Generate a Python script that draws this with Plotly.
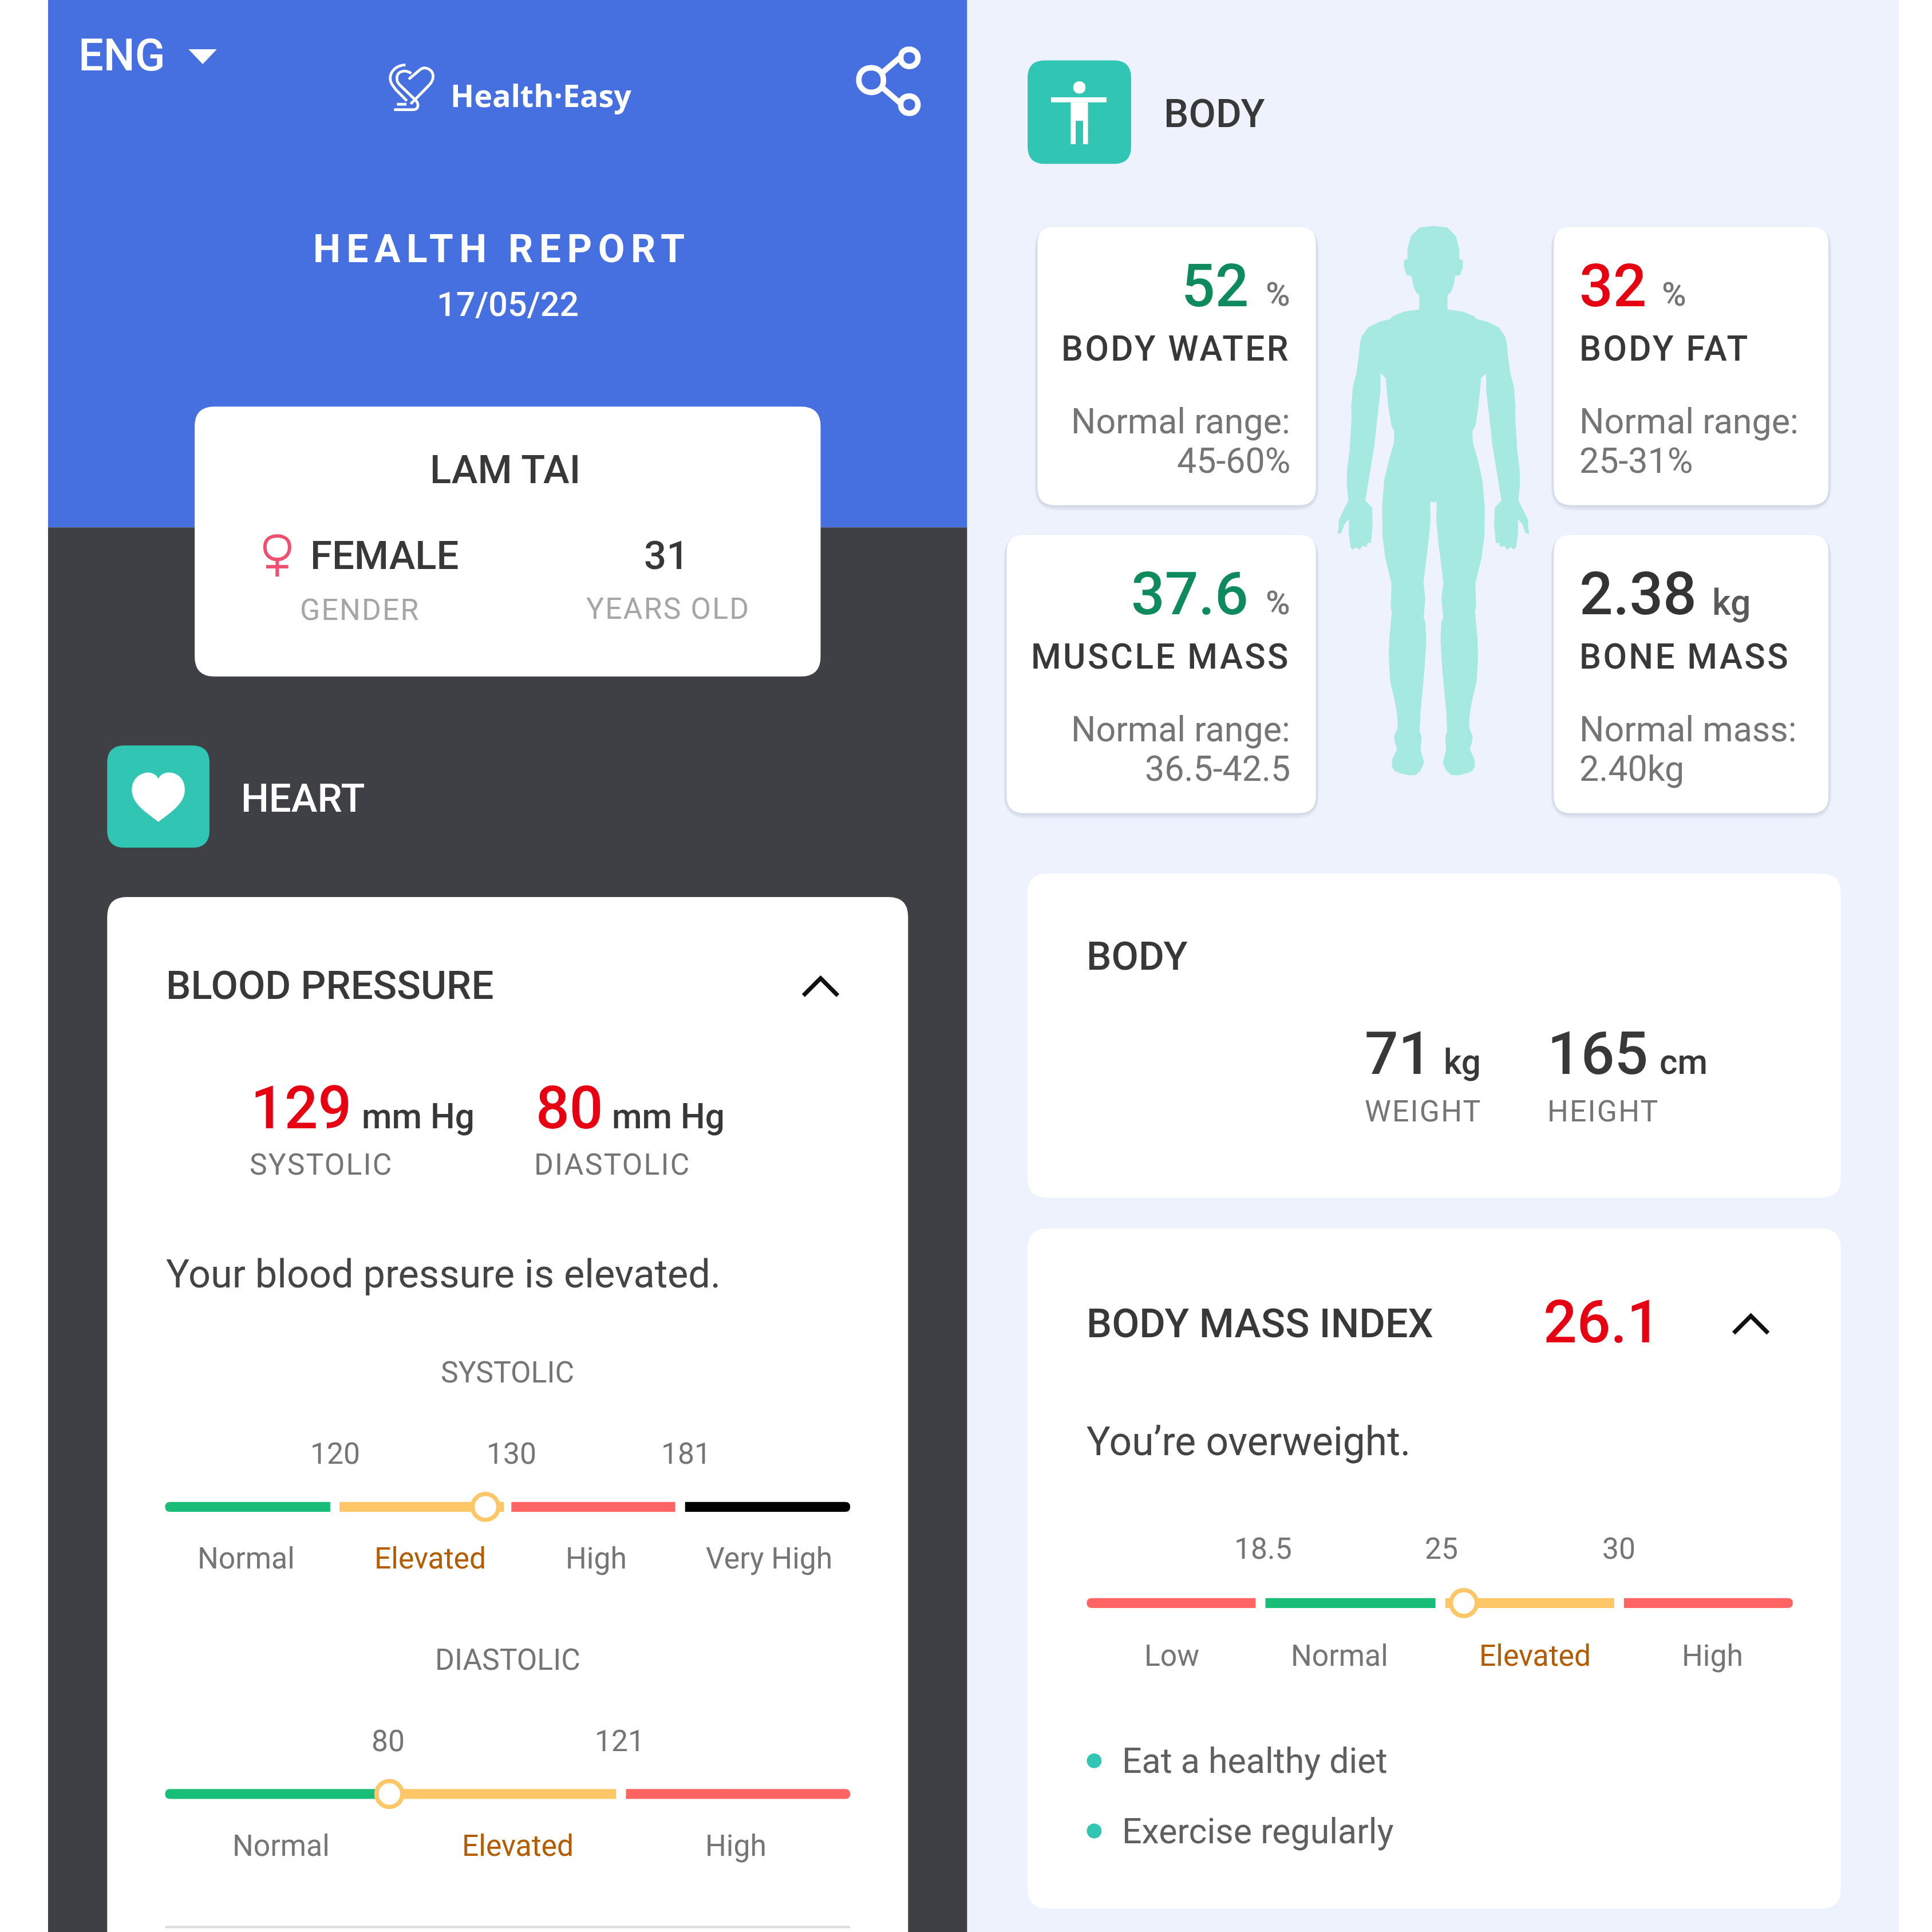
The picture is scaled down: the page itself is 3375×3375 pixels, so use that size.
"""Health report screen rebuilt as a single Plotly figure"""

import plotly.graph_objects as go

# all positions below are in the coordinates of a 1568 px wide layout
S = 3375 / 1568

report_title = "HEALTH REPORT"
report_date = "17/05/22"
patient_name = "LAM TAI"
patient_gender = "FEMALE"
patient_age = "31"

systolic_value = 129
diastolic_value = 80
bmi_value = 26.1
weight_kg = 71
height_cm = 165

systolic_labels = ["Normal", "Elevated", "High", "Very High"]
systolic_ticks = [120, 130, 181]
diastolic_labels = ["Normal", "Elevated", "High"]
diastolic_ticks = [80, 121]
bmi_labels = ["Low", "Normal", "Elevated", "High"]
bmi_ticks = [18.5, 25, 30]

body_names = ["BODY WATER", "BODY FAT", "MUSCLE MASS", "BONE MASS"]
body_values = ["52", "32", "37.6", "2.38"]
body_units = ["%", "%", "%", "kg"]
body_notes = ["Normal range:", "Normal range:", "Normal range:", "Normal mass:"]
body_ranges = ["45-60%", "25-31%", "36.5-42.5", "2.40kg"]
advice = ["Eat a healthy diet", "Exercise regularly"]

BLUE = "#466fe0"
DARK = "#3f4045"
PALE = "#eef2fd"
TEAL = "#31c6b4"
INK = "#383838"
GREY = "#757575"
RED = "#e60012"
GREEN = "#0f8a5c"
BROWN = "#b35c00"
G_GREEN = "#18bd78"
G_YELLOW = "#fdc666"
G_RED = "#ff6464"
FONT = "Roboto"

shapes = []
annotations = []


def text(x, y, s, size, color=INK, anchor="left", weight=400, spacing=0, family=FONT):
    # annotations carry a small inner padding, take it back out
    nudge = {"left": -1.3, "right": 1, "center": 0}[anchor]
    if spacing:
        s = f'<span style="letter-spacing:{spacing * S:.1f}px">{s}</span>'
    annotations.append(dict(
        x=x + nudge, y=y, text=s, showarrow=False, xanchor=anchor, yanchor="middle", align=anchor,
        font=dict(family=family, size=size * S, color=color, weight=weight),
    ))


def shape_path(path, fill=None, line=None, width=0, opacity=1):
    shapes.append(dict(
        type="path", path=path, xref="x", yref="y", layer="below", opacity=opacity,
        fillcolor=fill if fill else "rgba(0,0,0,0)",
        line=dict(color=line if line else "rgba(0,0,0,0)", width=width * S),
    ))


def round_rect(x0, y0, x1, y1, r, fill, opacity=1, left=True, right=True):
    rl = r if left else 0
    rr = r if right else 0
    p = (f"M{x0 + rl},{y0} L{x1 - rr},{y0} Q{x1},{y0} {x1},{y0 + rr} L{x1},{y1 - rr} "
         f"Q{x1},{y1} {x1 - rr},{y1} L{x0 + rl},{y1} Q{x0},{y1} {x0},{y1 - rl} "
         f"L{x0},{y0 + rl} Q{x0},{y0} {x0 + rl},{y0} Z")
    shape_path(p, fill=fill, opacity=opacity)


def rect(x0, y0, x1, y1, fill):
    shapes.append(dict(type="rect", x0=x0, y0=y0, x1=x1, y1=y1, xref="x", yref="y",
                       layer="below", fillcolor=fill, line=dict(width=0)))


def shadow_card(x0, y0, x1, y1, r=14):
    for d in [5, 4, 3, 2, 1]:
        round_rect(x0 - d * 0.5, y0 + 1 - d * 0.3, x1 + d * 0.5, y1 + d * 0.9, r + d,
                   "#7c84a0", opacity=0.05)
    round_rect(x0, y0, x1, y1, r, "white")


def chevron(cx, cy):
    shape_path(f"M{cx - 14},{cy + 8} L{cx},{cy - 6} L{cx + 14},{cy + 8}", line="#111111", width=3.4)


def gauge(edges, y, colors):
    n = len(edges)
    for i, (x0, x1) in enumerate(edges):
        round_rect(x0, y - 4, x1, y + 4, 4, colors[i], left=i == 0, right=i == n - 1)


def logo_xy(x, y):
    return f"{(660 + x / 3) / S:.1f},{(100 + y / 3) / S:.1f}"


# panels
rect(39, 0, 785, 428, BLUE)
rect(39, 428, 785, 1568, DARK)
rect(785, 0, 1541, 1568, PALE)

# header
text(64, 45, "ENG", 36, "white", weight=500)
shape_path("M153,40 L176,40 L164.5,52 Z", fill="white")
# logo
shape_path(f"M{logo_xy(162, 115)} L{logo_xy(225, 62)} C{logo_xy(255, 45)} {logo_xy(290, 70)} {logo_xy(290, 100)} "
           f"C{logo_xy(290, 125)} {logo_xy(275, 140)} {logo_xy(260, 155)} L{logo_xy(172, 245)}",
           line="white", width=2.2)
shape_path(f"M{logo_xy(175, 85)} C{logo_xy(140, 60)} {logo_xy(100, 75)} {logo_xy(100, 110)} "
           f"C{logo_xy(100, 135)} {logo_xy(115, 145)} {logo_xy(130, 160)} L{logo_xy(195, 222)} "
           f"C{logo_xy(220, 245)} {logo_xy(212, 275)} {logo_xy(185, 275)} L{logo_xy(85, 275)}",
           line="white", width=2.2)
shape_path(f"M{logo_xy(145, 40)} C{logo_xy(95, 42)} {logo_xy(65, 75)} {logo_xy(65, 110)} "
           f"C{logo_xy(65, 135)} {logo_xy(80, 150)} {logo_xy(95, 170)} L{logo_xy(152, 228)}",
           line="white", width=2.2)
shape_path(f"M{logo_xy(100, 246)} L{logo_xy(150, 246)}", line="white", width=2.2)
text(366, 77, "Health·Easy", 25, "white", weight=700, family="Open Sans")
# share icon
shape_path("M716,59 L730,47 M716,71 L731,84", line="white", width=4.5)
shape_path("M697,65 C697,58 702,55 707,55 C713,55 717,59 717,65 C717,71 713,75 707,75 "
           "C702,75 697,71 697,65 Z", line="white", width=4.5)
shape_path("M731,47 C731,42 734,40 738,40 C742,40 745,43 745,47 C745,51 742,54 738,54 "
           "C734,54 731,51 731,47 Z", line="white", width=4.5)
shape_path("M731,85 C731,80 734,78 738,78 C742,78 745,81 745,85 C745,89 742,92 738,92 "
           "C734,92 731,89 731,85 Z", line="white", width=4.5)

text(407, 202, report_title, 31.5, "white", "center", 700, spacing=4.9)
text(412, 247, report_date, 27.5, "white", "center", 500)

# name card
round_rect(158, 330, 666, 549, 16, "white")
text(410, 381, patient_name, 32, INK, "center", 500)
shape_path("M215,444 C215,438 219,435 225,435 C231,435 235,438 235,444 C235,450 231,454 225,454 "
           "C219,454 215,450 215,444 Z M225,454 L225,468 M216,460 L234,460",
           line="#f0506e", width=2.8)
text(252, 451, patient_gender, 32, INK, weight=500)
text(541, 451, patient_age, 32, INK, "center", 500)
text(292, 495, "GENDER", 24, "#a6a6a6", "center", spacing=1)
text(542, 494, "YEARS OLD", 24, "#a6a6a6", "center", spacing=1)

# heart section
round_rect(87, 605, 170, 688, 14, TEAL)
shape_path("M128.500,667 C118,659 107,652 107,641 C107,632 114,627 120,627 C124,627 127,629 128.500,632 "
           "C130,629 133,627 137,627 C144,627 150,632 150,641 C150,652 139,659 128.500,667 Z", fill="white")
text(196, 648, "HEART", 32, "white", weight=500)
round_rect(87, 728, 737, 1600, 16, "white")
text(135, 800, "BLOOD PRESSURE", 32, INK, weight=500)
chevron(666, 800)

text(204, 899, str(systolic_value), 48, RED, weight=500)
text(294, 906, "mm Hg", 28, INK, weight=500)
text(203, 945, "SYSTOLIC", 24, GREY, spacing=1)
text(435, 899, str(diastolic_value), 48, RED, weight=500)
text(497, 906, "mm Hg", 28, INK, weight=500)
text(434, 945, "DIASTOLIC", 24, GREY, spacing=1)
text(135, 1034, "Your blood pressure is elevated.", 31.8, "#444444")

# systolic gauge
text(412, 1114, "SYSTOLIC", 24, GREY, "center")
for t, x in zip(systolic_ticks, [272, 415, 557]):
    text(x, 1180, str(t), 24, GREY, "center")
gauge([(134, 268), (275.500, 409), (415, 548), (556, 690)], 1223, [G_GREEN, G_YELLOW, G_RED, "#000000"])
for i, (lab, x) in enumerate(zip(systolic_labels, [200, 349, 484, 624])):
    text(x, 1265, lab, 24, BROWN if i == 1 else GREY, "center")

# diastolic gauge
text(412, 1347, "DIASTOLIC", 24, GREY, "center")
for t, x in zip(diastolic_ticks, [315, 503]):
    text(x, 1413, str(t), 24, GREY, "center")
gauge([(134, 316), (316, 500), (508, 690)], 1456, [G_GREEN, G_YELLOW, G_RED])
for i, (lab, x) in enumerate(zip(diastolic_labels, [228, 420, 597])):
    text(x, 1498, lab, 24, BROWN if i == 1 else GREY, "center")
rect(134, 1563, 690, 1565, "#dddddd")

# body section
round_rect(834, 49, 918, 133, 14, TEAL)
shape_path("M871,71 C871,68 873,66 876,66 C879,66 881,68 881,71 C881,74 879,76 876,76 C873,76 871,74 871,71 Z", fill="white")
rect(853, 79, 898, 83, "white")
shape_path("M869,83 L883,83 L883,117 L879,117 L879,98 L873,98 L873,117 L869,117 Z", fill="white")
text(945, 92, "BODY", 32, INK, weight=500)

# silhouette, left half, mirrored around the spine
half = [(612, 38), (540, 42), (495, 65), (476, 100), (476, 127), (458, 130), (458, 150), (472, 170),
        (497, 172), (505, 195), (520, 215), (538, 225), (538, 262), (460, 268), (400, 280), (385, 288),
        (330, 295), (270, 310), (235, 335), (227, 355), (222, 385), (208, 435), (190, 470), (182, 520),
        (183, 555), (172, 645), (160, 690), (158, 730), (166, 775), (115, 828), (116, 845), (110, 865),
        (130, 862), (146, 838), (170, 825), (168, 860), (178, 900), (190, 907), (208, 900), (225, 908),
        (240, 897), (262, 900), (268, 888), (285, 890), (294, 840), (291, 795), (255, 775), (305, 620),
        (310, 590), (335, 480), (335, 433), (362, 447), (375, 520), (392, 575), (408, 590), (405, 620),
        (380, 665), (355, 720), (343, 790), (345, 870), (360, 930), (392, 997), (388, 1060), (394, 1075),
        (382, 1140), (378, 1190), (385, 1260), (410, 1315), (422, 1350), (425, 1385), (406, 1408),
        (410, 1425), (422, 1442), (395, 1472), (395, 1490), (410, 1502), (440, 1508), (480, 1513),
        (520, 1512), (545, 1500), (563, 1478), (545, 1445), (550, 1410), (540, 1395), (545, 1340),
        (565, 1230), (575, 1150), (570, 1100), (560, 1090), (570, 1040), (560, 995), (585, 890),
        (597, 830), (595, 778), (612, 780)]
outline = half + [(2 * 612 - x, y) for x, y in reversed(half)]
pts = [((2300 + x / 3) / S, (370 + y / 1.537) / S) for x, y in outline]
shape_path("M" + " L".join(f"{x:.1f},{y:.1f}" for x, y in pts) + " Z", fill="#a5e9e0")

# four body cards
cards = [(842, 184, 1068), (1261, 184, 1484), (817, 434, 1068), (1261, 434, 1484)]
for i, (x0, y0, x1) in enumerate(cards):
    shadow_card(x0, y0, x1, y0 + 226)
    val_color = [GREEN, RED, GREEN, "#333333"][i]
    if i in (0, 2):
        text(1013, y0 + 48, body_values[i], 48, val_color, "right", 500)
        text(1047, y0 + 55, body_units[i], 27, GREY, "right", 500)
        text(1047, y0 + 99, body_names[i], 28, INK, "right", 500, spacing=1.6)
        text(1047, y0 + 158, body_notes[i], 28.3, GREY, "right")
        text(1047, y0 + 190, body_ranges[i], 28.3, GREY, "right")
    else:
        text(1282, y0 + 48, body_values[i], 48, val_color, weight=500)
        unit_x = 1349 if i == 1 else 1390
        text(unit_x, y0 + 55, body_units[i], 27 if i == 1 else 29, GREY if i == 1 else "#5a5a5a", weight=500)
        text(1282, y0 + 99, body_names[i], 28, INK, weight=500, spacing=1.6)
        text(1282, y0 + 158, body_notes[i], 28.3, GREY)
        text(1282, y0 + 190, body_ranges[i], 28.3, GREY)

# weight and height
round_rect(834, 709, 1494, 972, 16, "white")
text(882, 776, "BODY", 32, INK, weight=500)
text(1108, 855, str(weight_kg), 48, INK, weight=500)
text(1172, 862, "kg", 28, INK, weight=500)
text(1108, 902, "WEIGHT", 24, GREY, spacing=1)
text(1256, 855, str(height_cm), 48, INK, weight=500)
text(1347, 862, "cm", 28, INK, weight=500)
text(1256, 902, "HEIGHT", 24, GREY, spacing=1)

# bmi card
round_rect(834, 997, 1494, 1549, 16, "white")
text(882, 1074, "BODY MASS INDEX", 32.5, INK, weight=500)
text(1253, 1073, str(bmi_value), 48, RED, weight=500)
chevron(1421, 1074)
text(882, 1170, "You’re overweight.", 32.3, "#444444")
for t, x in zip(bmi_ticks, [1025, 1170, 1314]):
    text(x, 1257, str(t), 24, GREY, "center")
gauge([(882, 1019), (1027, 1165), (1173, 1310), (1318, 1455)], 1301, [G_RED, G_GREEN, G_YELLOW, G_RED])
for i, (lab, x) in enumerate(zip(bmi_labels, [951, 1087, 1246, 1390])):
    text(x, 1344, lab, 24, BROWN if i == 2 else GREY, "center")
for tip, y in zip(advice, [1429, 1486]):
    text(911, y, tip, 28.3, "#5f5f5f")

fig = go.Figure()

# bullets and the white rings on the gauges go on top of the bars
fig.add_trace(go.Scatter(
    x=[888, 888], y=[1429, 1486], mode="markers", hoverinfo="skip",
    marker=dict(size=12 * S, color=TEAL, line=dict(width=0)),
))
fig.add_trace(go.Scatter(
    x=[394, 316, 1188], y=[1223, 1456, 1301], mode="markers", hoverinfo="skip",
    customdata=[systolic_value, diastolic_value, bmi_value],
    marker=dict(size=21 * S, color="white", line=dict(width=3.5 * S, color=G_YELLOW)),
))

fig.update_layout(
    width=3375, height=3375,
    margin=dict(l=0, r=0, t=0, b=0),
    paper_bgcolor="white", plot_bgcolor="white",
    showlegend=False,
    xaxis=dict(range=[0, 1568], visible=False, fixedrange=True),
    yaxis=dict(range=[1568, 0], visible=False, fixedrange=True),
    shapes=shapes, annotations=annotations,
)

# the page's default body margin would push the figure 8 px down and right
fig.write_html("out.html", config=dict(displayModeBar=False),
               post_script="document.body.style.margin = '0';")
